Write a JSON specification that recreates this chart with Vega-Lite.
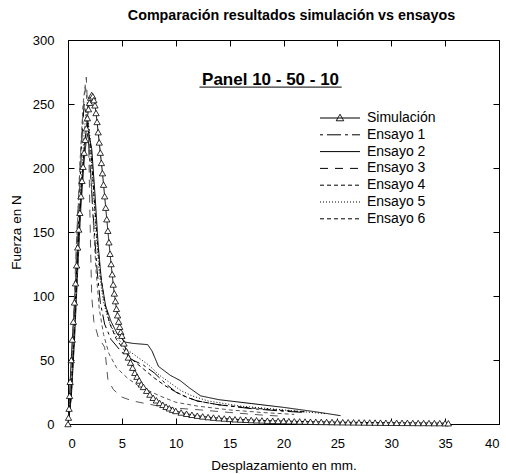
{
  "$schema": "https://vega.github.io/schema/vega-lite/v6.json",
  "width": 431,
  "height": 384,
  "autosize": "none",
  "padding": {"left": 68, "top": 40, "right": 7, "bottom": 50},
  "background": "white",
  "config": {
    "font": "Liberation Sans",
    "view": {"stroke": null},
    "axis": {"grid": false, "domainColor": "black", "tickColor": "black", "labelColor": "black", "titleColor": "black", "labelFont": "Liberation Sans", "titleFont": "Liberation Sans", "labelFontSize": 13, "titleFontSize": 13.5, "titleFontWeight": "normal", "tickSize": -6, "domainWidth": 1, "tickWidth": 1}
  },
  "title": {"text": "Comparación resultados simulación vs ensayos", "fontSize": 14.3, "fontWeight": "bold", "font": "Liberation Sans", "color": "black", "offset": 11, "dx": 8},
  "datasets": {
    "d": [
      {"series": "Simulación", "x": 0, "F": 0}, {"series": "Simulación", "x": 0.05, "F": 5}, {"series": "Simulación", "x": 0.1, "F": 12}, {"series": "Simulación", "x": 0.15, "F": 22}, {"series": "Simulación", "x": 0.2, "F": 33}, {"series": "Simulación", "x": 0.3, "F": 50}, {"series": "Simulación", "x": 0.4, "F": 66}, {"series": "Simulación", "x": 0.5, "F": 80}, {"series": "Simulación", "x": 0.6, "F": 95}, {"series": "Simulación", "x": 0.7, "F": 110}, {"series": "Simulación", "x": 0.8, "F": 124}, {"series": "Simulación", "x": 0.9, "F": 138}, {"series": "Simulación", "x": 1.0, "F": 152}, {"series": "Simulación", "x": 1.1, "F": 165}, {"series": "Simulación", "x": 1.2, "F": 178}, {"series": "Simulación", "x": 1.3, "F": 190}, {"series": "Simulación", "x": 1.4, "F": 201}, {"series": "Simulación", "x": 1.5, "F": 212}, {"series": "Simulación", "x": 1.6, "F": 222}, {"series": "Simulación", "x": 1.7, "F": 231}, {"series": "Simulación", "x": 1.8, "F": 239}, {"series": "Simulación", "x": 1.9, "F": 246}, {"series": "Simulación", "x": 2.0, "F": 251}, {"series": "Simulación", "x": 2.1, "F": 255}, {"series": "Simulación", "x": 2.2, "F": 257}, {"series": "Simulación", "x": 2.3, "F": 256}, {"series": "Simulación", "x": 2.4, "F": 253}, {"series": "Simulación", "x": 2.5, "F": 249}, {"series": "Simulación", "x": 2.6, "F": 243}, {"series": "Simulación", "x": 2.7, "F": 236}, {"series": "Simulación", "x": 2.8, "F": 228}, {"series": "Simulación", "x": 2.9, "F": 220}, {"series": "Simulación", "x": 3.0, "F": 212}, {"series": "Simulación", "x": 3.1, "F": 204}, {"series": "Simulación", "x": 3.2, "F": 196}, {"series": "Simulación", "x": 3.3, "F": 187}, {"series": "Simulación", "x": 3.4, "F": 178}, {"series": "Simulación", "x": 3.5, "F": 169}, {"series": "Simulación", "x": 3.6, "F": 160}, {"series": "Simulación", "x": 3.7, "F": 151}, {"series": "Simulación", "x": 3.8, "F": 142}, {"series": "Simulación", "x": 3.9, "F": 133}, {"series": "Simulación", "x": 4.0, "F": 125}, {"series": "Simulación", "x": 4.1, "F": 117}, {"series": "Simulación", "x": 4.2, "F": 109}, {"series": "Simulación", "x": 4.3, "F": 102}, {"series": "Simulación", "x": 4.4, "F": 96}, {"series": "Simulación", "x": 4.5, "F": 90}, {"series": "Simulación", "x": 4.6, "F": 85}, {"series": "Simulación", "x": 4.7, "F": 80}, {"series": "Simulación", "x": 4.8, "F": 76}, {"series": "Simulación", "x": 4.9, "F": 72}, {"series": "Simulación", "x": 5.0, "F": 69}, {"series": "Simulación", "x": 5.2, "F": 63}, {"series": "Simulación", "x": 5.4, "F": 57}, {"series": "Simulación", "x": 5.6, "F": 52}, {"series": "Simulación", "x": 5.8, "F": 48}, {"series": "Simulación", "x": 6.0, "F": 44}, {"series": "Simulación", "x": 6.2, "F": 40}, {"series": "Simulación", "x": 6.4, "F": 37}, {"series": "Simulación", "x": 6.6, "F": 34}, {"series": "Simulación", "x": 6.8, "F": 31}, {"series": "Simulación", "x": 7.0, "F": 29}, {"series": "Simulación", "x": 7.3, "F": 26}, {"series": "Simulación", "x": 7.6, "F": 23}, {"series": "Simulación", "x": 7.9, "F": 20.5}, {"series": "Simulación", "x": 8.2, "F": 18.5}, {"series": "Simulación", "x": 8.5, "F": 16.5}, {"series": "Simulación", "x": 8.8, "F": 15}, {"series": "Simulación", "x": 9.1, "F": 13.5}, {"series": "Simulación", "x": 9.4, "F": 12.3}, {"series": "Simulación", "x": 9.7, "F": 11.2}, {"series": "Simulación", "x": 10, "F": 10.2}, {"series": "Simulación", "x": 10.5, "F": 9}, {"series": "Simulación", "x": 11, "F": 8}, {"series": "Simulación", "x": 11.5, "F": 7.2}, {"series": "Simulación", "x": 12, "F": 6.5}, {"series": "Simulación", "x": 12.5, "F": 5.9}, {"series": "Simulación", "x": 13, "F": 5.4}, {"series": "Simulación", "x": 13.5, "F": 5}, {"series": "Simulación", "x": 14, "F": 4.6}, {"series": "Simulación", "x": 14.5, "F": 4.3}, {"series": "Simulación", "x": 15, "F": 4}, {"series": "Simulación", "x": 15.5, "F": 3.7}, {"series": "Simulación", "x": 16, "F": 3.5}, {"series": "Simulación", "x": 16.5, "F": 3.3}, {"series": "Simulación", "x": 17, "F": 3.1}, {"series": "Simulación", "x": 17.5, "F": 2.9}, {"series": "Simulación", "x": 18, "F": 2.8}, {"series": "Simulación", "x": 18.5, "F": 2.6}, {"series": "Simulación", "x": 19, "F": 2.5}, {"series": "Simulación", "x": 19.5, "F": 2.4}, {"series": "Simulación", "x": 20, "F": 2.3}, {"series": "Simulación", "x": 20.5, "F": 2.2}, {"series": "Simulación", "x": 21, "F": 2.1}, {"series": "Simulación", "x": 21.5, "F": 2.0}, {"series": "Simulación", "x": 22, "F": 1.9}, {"series": "Simulación", "x": 22.5, "F": 1.8}, {"series": "Simulación", "x": 23, "F": 1.7}, {"series": "Simulación", "x": 23.5, "F": 1.65}, {"series": "Simulación", "x": 24, "F": 1.6}, {"series": "Simulación", "x": 24.5, "F": 1.5}, {"series": "Simulación", "x": 25, "F": 1.45}, {"series": "Simulación", "x": 25.5, "F": 1.4}, {"series": "Simulación", "x": 26, "F": 1.35}, {"series": "Simulación", "x": 26.5, "F": 1.3}, {"series": "Simulación", "x": 27, "F": 1.25}, {"series": "Simulación", "x": 27.5, "F": 1.2}, {"series": "Simulación", "x": 28, "F": 1.15}, {"series": "Simulación", "x": 28.5, "F": 1.1}, {"series": "Simulación", "x": 29, "F": 1.05}, {"series": "Simulación", "x": 29.5, "F": 1.0}, {"series": "Simulación", "x": 30, "F": 1.0}, {"series": "Simulación", "x": 30.5, "F": 0.95}, {"series": "Simulación", "x": 31, "F": 0.9}, {"series": "Simulación", "x": 31.5, "F": 0.9}, {"series": "Simulación", "x": 32, "F": 0.85}, {"series": "Simulación", "x": 32.5, "F": 0.8}, {"series": "Simulación", "x": 33, "F": 0.8}, {"series": "Simulación", "x": 33.5, "F": 0.75}, {"series": "Simulación", "x": 34, "F": 0.7}, {"series": "Simulación", "x": 34.5, "F": 0.7}, {"series": "Simulación", "x": 35, "F": 0.65}, {"series": "Simulación", "x": 35.3, "F": 0.6},

      {"series": "Ensayo 1", "x": 0, "F": 0}, {"series": "Ensayo 1", "x": 0.2, "F": 15}, {"series": "Ensayo 1", "x": 0.5, "F": 60}, {"series": "Ensayo 1", "x": 0.8, "F": 120}, {"series": "Ensayo 1", "x": 1.1, "F": 185}, {"series": "Ensayo 1", "x": 1.3, "F": 225}, {"series": "Ensayo 1", "x": 1.5, "F": 250}, {"series": "Ensayo 1", "x": 1.8, "F": 235}, {"series": "Ensayo 1", "x": 2.1, "F": 195}, {"series": "Ensayo 1", "x": 2.4, "F": 155}, {"series": "Ensayo 1", "x": 2.7, "F": 120}, {"series": "Ensayo 1", "x": 3.0, "F": 95}, {"series": "Ensayo 1", "x": 3.4, "F": 78}, {"series": "Ensayo 1", "x": 4, "F": 66}, {"series": "Ensayo 1", "x": 5, "F": 56}, {"series": "Ensayo 1", "x": 6, "F": 50}, {"series": "Ensayo 1", "x": 7, "F": 46}, {"series": "Ensayo 1", "x": 8, "F": 40}, {"series": "Ensayo 1", "x": 9, "F": 32}, {"series": "Ensayo 1", "x": 10, "F": 25}, {"series": "Ensayo 1", "x": 11, "F": 21}, {"series": "Ensayo 1", "x": 12, "F": 18}, {"series": "Ensayo 1", "x": 14, "F": 15}, {"series": "Ensayo 1", "x": 17, "F": 12}, {"series": "Ensayo 1", "x": 20, "F": 10}, {"series": "Ensayo 1", "x": 22, "F": 9},

      {"series": "Ensayo 2", "x": 0, "F": 0}, {"series": "Ensayo 2", "x": 0.3, "F": 20}, {"series": "Ensayo 2", "x": 0.6, "F": 65}, {"series": "Ensayo 2", "x": 0.9, "F": 120}, {"series": "Ensayo 2", "x": 1.2, "F": 170}, {"series": "Ensayo 2", "x": 1.5, "F": 205}, {"series": "Ensayo 2", "x": 1.7, "F": 222}, {"series": "Ensayo 2", "x": 1.9, "F": 228}, {"series": "Ensayo 2", "x": 2.2, "F": 215}, {"series": "Ensayo 2", "x": 2.5, "F": 180}, {"series": "Ensayo 2", "x": 2.8, "F": 140}, {"series": "Ensayo 2", "x": 3.1, "F": 112}, {"series": "Ensayo 2", "x": 3.5, "F": 92}, {"series": "Ensayo 2", "x": 4, "F": 80}, {"series": "Ensayo 2", "x": 4.6, "F": 70}, {"series": "Ensayo 2", "x": 5.3, "F": 64}, {"series": "Ensayo 2", "x": 6, "F": 63}, {"series": "Ensayo 2", "x": 7.4, "F": 62}, {"series": "Ensayo 2", "x": 7.8, "F": 57}, {"series": "Ensayo 2", "x": 8.4, "F": 45}, {"series": "Ensayo 2", "x": 9.5, "F": 38}, {"series": "Ensayo 2", "x": 10.4, "F": 34}, {"series": "Ensayo 2", "x": 11.3, "F": 28}, {"series": "Ensayo 2", "x": 12.3, "F": 22}, {"series": "Ensayo 2", "x": 14, "F": 19}, {"series": "Ensayo 2", "x": 17, "F": 16}, {"series": "Ensayo 2", "x": 20, "F": 13}, {"series": "Ensayo 2", "x": 23, "F": 9.5}, {"series": "Ensayo 2", "x": 25.3, "F": 6.5},

      {"series": "Ensayo 3", "x": 0, "F": 0}, {"series": "Ensayo 3", "x": 0.2, "F": 20}, {"series": "Ensayo 3", "x": 0.5, "F": 80}, {"series": "Ensayo 3", "x": 0.8, "F": 145}, {"series": "Ensayo 3", "x": 1.1, "F": 200}, {"series": "Ensayo 3", "x": 1.4, "F": 245}, {"series": "Ensayo 3", "x": 1.7, "F": 271}, {"series": "Ensayo 3", "x": 1.9, "F": 230}, {"series": "Ensayo 3", "x": 2.0, "F": 180}, {"series": "Ensayo 3", "x": 2.1, "F": 136}, {"series": "Ensayo 3", "x": 2.2, "F": 100}, {"series": "Ensayo 3", "x": 2.4, "F": 80}, {"series": "Ensayo 3", "x": 2.8, "F": 68}, {"series": "Ensayo 3", "x": 3.4, "F": 60}, {"series": "Ensayo 3", "x": 3.7, "F": 35}, {"series": "Ensayo 3", "x": 4.2, "F": 27}, {"series": "Ensayo 3", "x": 5, "F": 21}, {"series": "Ensayo 3", "x": 6, "F": 18}, {"series": "Ensayo 3", "x": 7.2, "F": 16}, {"series": "Ensayo 3", "x": 9, "F": 13}, {"series": "Ensayo 3", "x": 12.3, "F": 11}, {"series": "Ensayo 3", "x": 15, "F": 9}, {"series": "Ensayo 3", "x": 18, "F": 7}, {"series": "Ensayo 3", "x": 20, "F": 6},

      {"series": "Ensayo 4", "x": 0, "F": 0}, {"series": "Ensayo 4", "x": 0.25, "F": 25}, {"series": "Ensayo 4", "x": 0.55, "F": 85}, {"series": "Ensayo 4", "x": 0.85, "F": 150}, {"series": "Ensayo 4", "x": 1.15, "F": 210}, {"series": "Ensayo 4", "x": 1.4, "F": 250}, {"series": "Ensayo 4", "x": 1.6, "F": 265}, {"series": "Ensayo 4", "x": 1.8, "F": 250}, {"series": "Ensayo 4", "x": 2.0, "F": 215}, {"series": "Ensayo 4", "x": 2.3, "F": 165}, {"series": "Ensayo 4", "x": 2.6, "F": 120}, {"series": "Ensayo 4", "x": 2.9, "F": 90}, {"series": "Ensayo 4", "x": 3.3, "F": 70}, {"series": "Ensayo 4", "x": 3.8, "F": 55}, {"series": "Ensayo 4", "x": 4.5, "F": 44}, {"series": "Ensayo 4", "x": 5.5, "F": 36}, {"series": "Ensayo 4", "x": 6.5, "F": 30}, {"series": "Ensayo 4", "x": 7.5, "F": 26}, {"series": "Ensayo 4", "x": 8.5, "F": 22}, {"series": "Ensayo 4", "x": 10, "F": 17}, {"series": "Ensayo 4", "x": 12, "F": 14}, {"series": "Ensayo 4", "x": 15, "F": 11}, {"series": "Ensayo 4", "x": 18, "F": 9}, {"series": "Ensayo 4", "x": 21, "F": 7.5},

      {"series": "Ensayo 5", "x": 0, "F": 0}, {"series": "Ensayo 5", "x": 0.3, "F": 25}, {"series": "Ensayo 5", "x": 0.6, "F": 75}, {"series": "Ensayo 5", "x": 0.9, "F": 130}, {"series": "Ensayo 5", "x": 1.2, "F": 185}, {"series": "Ensayo 5", "x": 1.5, "F": 228}, {"series": "Ensayo 5", "x": 1.7, "F": 245}, {"series": "Ensayo 5", "x": 2.0, "F": 228}, {"series": "Ensayo 5", "x": 2.3, "F": 190}, {"series": "Ensayo 5", "x": 2.6, "F": 150}, {"series": "Ensayo 5", "x": 2.9, "F": 118}, {"series": "Ensayo 5", "x": 3.3, "F": 95}, {"series": "Ensayo 5", "x": 3.8, "F": 80}, {"series": "Ensayo 5", "x": 4.5, "F": 68}, {"series": "Ensayo 5", "x": 5.5, "F": 58}, {"series": "Ensayo 5", "x": 6.5, "F": 52}, {"series": "Ensayo 5", "x": 7.5, "F": 46}, {"series": "Ensayo 5", "x": 8.5, "F": 38}, {"series": "Ensayo 5", "x": 9.5, "F": 32}, {"series": "Ensayo 5", "x": 10.5, "F": 26}, {"series": "Ensayo 5", "x": 11.5, "F": 22}, {"series": "Ensayo 5", "x": 13, "F": 18}, {"series": "Ensayo 5", "x": 16, "F": 14}, {"series": "Ensayo 5", "x": 20, "F": 11}, {"series": "Ensayo 5", "x": 24, "F": 8},

      {"series": "Ensayo 6", "x": 0, "F": 0}, {"series": "Ensayo 6", "x": 0.3, "F": 22}, {"series": "Ensayo 6", "x": 0.6, "F": 70}, {"series": "Ensayo 6", "x": 0.9, "F": 125}, {"series": "Ensayo 6", "x": 1.2, "F": 178}, {"series": "Ensayo 6", "x": 1.5, "F": 215}, {"series": "Ensayo 6", "x": 1.8, "F": 235}, {"series": "Ensayo 6", "x": 2.1, "F": 218}, {"series": "Ensayo 6", "x": 2.4, "F": 180}, {"series": "Ensayo 6", "x": 2.7, "F": 145}, {"series": "Ensayo 6", "x": 3.0, "F": 118}, {"series": "Ensayo 6", "x": 3.4, "F": 95}, {"series": "Ensayo 6", "x": 3.9, "F": 78}, {"series": "Ensayo 6", "x": 4.5, "F": 66}, {"series": "Ensayo 6", "x": 5.2, "F": 58}, {"series": "Ensayo 6", "x": 6, "F": 50}, {"series": "Ensayo 6", "x": 7, "F": 43}, {"series": "Ensayo 6", "x": 8, "F": 36}, {"series": "Ensayo 6", "x": 9, "F": 30}, {"series": "Ensayo 6", "x": 10, "F": 25}, {"series": "Ensayo 6", "x": 11, "F": 21}, {"series": "Ensayo 6", "x": 12, "F": 18}, {"series": "Ensayo 6", "x": 14, "F": 15}, {"series": "Ensayo 6", "x": 17, "F": 12.5}, {"series": "Ensayo 6", "x": 20, "F": 10.5}, {"series": "Ensayo 6", "x": 22, "F": 9.5}
    ],
    "one": [{"label": "Panel 10 - 50 - 10"}]
  },
  "resolve": {"axis": {"x": "independent", "y": "independent"}},
  "layer": [
    {
      "data": {"name": "d"},
      "mark": {"type": "line", "strokeWidth": 1, "clip": true},
      "encoding": {
        "x": {"field": "x", "type": "quantitative", "scale": {"domain": [0, 40], "nice": false}, "axis": {"orient": "bottom", "title": "Desplazamiento en mm.", "values": [0, 5, 10, 15, 20, 25, 30, 35, 40], "labelPadding": 19, "titlePadding": 8}},
        "y": {"field": "F", "type": "quantitative", "scale": {"domain": [0, 300], "nice": false}, "axis": {"orient": "left", "title": "Fuerza en N", "values": [0, 50, 100, 150, 200, 250, 300], "labelPadding": 20, "titlePadding": 9}},
        "stroke": {"condition": {"test": "datum.series === 'Ensayo 3' || datum.series === 'Ensayo 4'", "value": "#555555"}, "value": "black"},
        "strokeDash": {"field": "series", "type": "nominal", "scale": {"domain": ["Simulación", "Ensayo 1", "Ensayo 2", "Ensayo 3", "Ensayo 4", "Ensayo 5", "Ensayo 6"], "range": [[1, 0], [3, 4, 14, 4], [1, 0], [8, 7], [4, 3], [1, 2], [4, 3]]},
          "legend": {"title": null, "orient": "none", "legendX": 280, "legendY": 71, "padding": 0, "labelFontSize": 14, "labelFont": "Liberation Sans", "labelColor": "black", "labelOffset": 5, "symbolSize": 100, "symbolStrokeWidth": 1, "symbolStrokeColor": "black", "rowPadding": 2.8, "labelLimit": 200,
            "encode": {"symbols": {"update": {"shape": [{"test": "datum.value === 'Simulación'", "value": "M-7,0H1M-3,-0.75L-2.25,0.55L-3.75,0.55Z"}, {"value": "M-7,0H1"}], "fill": {"value": "white"}, "stroke": {"value": "black"}, "strokeWidth": {"value": 1}, "opacity": {"value": 1}, "strokeOpacity": {"value": 1}}}}}}
      }
    },
    {
      "data": {"name": "d"},
      "transform": [{"filter": "datum.series === 'Simulación'"}],
      "mark": {"type": "point", "shape": "triangle-up", "size": 40, "filled": true, "fill": "white", "stroke": "black", "strokeWidth": 0.8, "opacity": 1},
      "encoding": {
        "x": {"field": "x", "type": "quantitative", "axis": {"orient": "top", "labels": false, "title": null, "values": [0, 5, 10, 15, 20, 25, 30, 35, 40]}},
        "y": {"field": "F", "type": "quantitative", "axis": {"orient": "right", "labels": false, "title": null, "values": [0, 50, 100, 150, 200, 250, 300]}}
      }
    },
    {
      "data": {"name": "one"},
      "mark": {"type": "text", "fontWeight": "bold", "fontSize": 17, "font": "Liberation Sans", "color": "black", "align": "center", "baseline": "middle"},
      "encoding": {
        "x": {"datum": 18.8, "type": "quantitative", "axis": null},
        "y": {"datum": 268.5, "type": "quantitative", "axis": null},
        "text": {"field": "label"}
      }
    },
    {
      "data": {"name": "one"},
      "mark": {"type": "rule", "color": "black", "strokeWidth": 1},
      "encoding": {
        "x": {"datum": 12.2, "type": "quantitative", "axis": null},
        "x2": {"datum": 25.4},
        "y": {"datum": 263.2, "type": "quantitative", "axis": null}
      }
    }
  ]
}
